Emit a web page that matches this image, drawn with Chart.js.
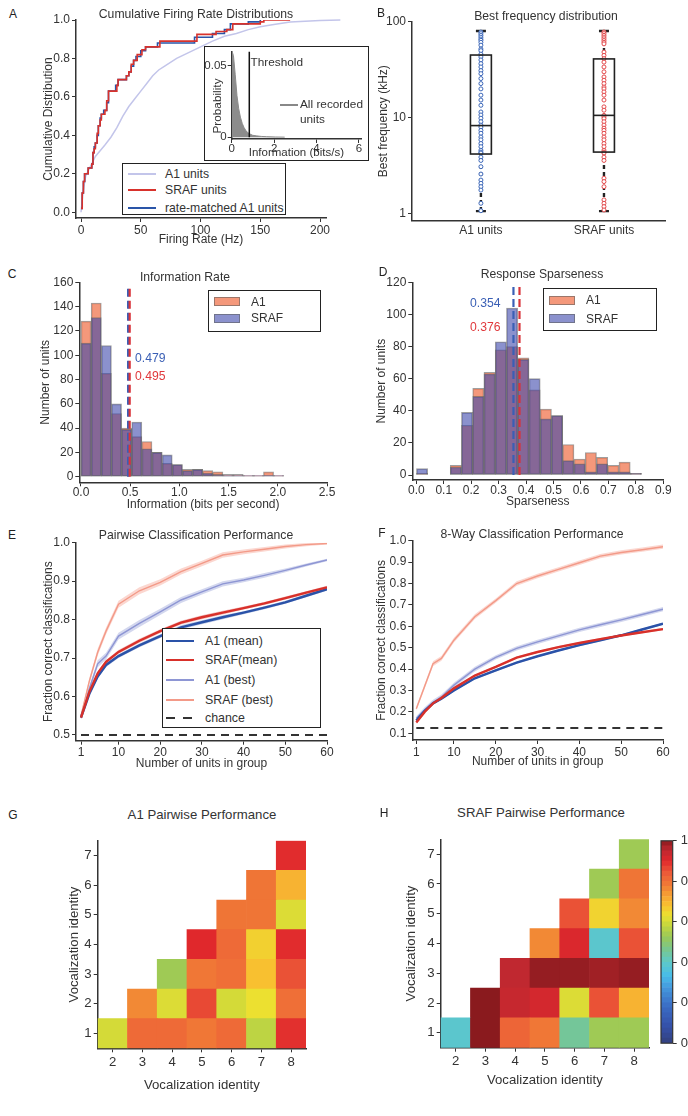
<!DOCTYPE html>
<html>
<head>
<meta charset="utf-8">
<script src="https://cdn.jsdelivr.net/npm/chart.js@4.4.1/dist/chart.umd.min.js"></script>
<style>
html,body{margin:0;padding:0;background:#fff;overflow:hidden}
#fig{position:relative;width:688px;height:1116px;overflow:hidden;font-family:"Liberation Sans",Arial,sans-serif;color:#333}
canvas{position:absolute}
.tx{position:absolute;white-space:nowrap;line-height:1}
.box{position:absolute;border:1.5px solid #222;background:#fff;box-sizing:border-box}
.sw{position:absolute}
</style>
</head>
<body>
<div id="fig">
  <canvas id="cA"></canvas>
  <div class="box" id="insetBox" style="left:204px;top:46px;width:165px;height:115px"></div>
  <canvas id="cAin"></canvas>
  <canvas id="cB"></canvas>
  <canvas id="cC"></canvas>
  <canvas id="cD"></canvas>
  <canvas id="cE"></canvas>
  <canvas id="cF"></canvas>
  <canvas id="cG"></canvas>
  <canvas id="cH"></canvas>
  <canvas id="cBar"></canvas>
</div>
<script>
/* ---------- data ---------- */
// A: cumulative firing-rate distributions (Hz, cumulative fraction)
const A1_RATE   = [0,1,2,4,8,12,16,20,25,30,35,40,45,50,55,60,65,70,80,90,100,110,120,130,140,150,160,175,200,217];
const A1_CUM    = [0,0.06,0.12,0.19,0.24,0.29,0.32,0.35,0.39,0.44,0.5,0.55,0.59,0.63,0.67,0.71,0.74,0.76,0.8,0.83,0.86,0.89,0.915,0.93,0.95,0.965,0.975,0.99,0.997,1.0];
const SRAF_RATE = [0,1,2,3,6,9,10,11,12,13.5,14.5,16,17,20,21.5,23,30,31,38,40,42,44,47,51,54,66,97,113,122,127,150,153,175];
const SRAF_CUM  = [0.02,0.1,0.16,0.2,0.23,0.25,0.31,0.33,0.36,0.41,0.45,0.48,0.51,0.53,0.58,0.63,0.66,0.69,0.71,0.73,0.77,0.79,0.82,0.845,0.86,0.89,0.925,0.94,0.95,0.98,0.99,1.0,1.0];
const RM_RATE   = [0,1,2,3,6,9,10,11,12,13.5,14.5,16,17,19,21.5,23,29,31,38,40,42,44,46,50,54,64,95,110,120,125,140,150];
const RM_CUM    = [0.02,0.1,0.16,0.2,0.23,0.25,0.31,0.34,0.36,0.4,0.45,0.49,0.51,0.53,0.57,0.63,0.66,0.69,0.71,0.73,0.76,0.79,0.81,0.84,0.86,0.88,0.91,0.93,0.95,0.98,0.99,1.0];
// A inset: information of all recorded units
const INFO_ALL_X = [0,0.017,0.083,0.165,0.25,0.33,0.41,0.5,0.58,0.66,0.74,0.83,0.99,1.16,1.4,1.65,2.06,2.5];
const INFO_ALL_P = [0.06,0.06,0.057,0.044,0.029,0.02,0.014,0.0095,0.0068,0.0048,0.0034,0.0024,0.0013,0.0009,0.0005,0.0003,0.0001,0];
const THRESHOLD = 0.83;

// B: best frequency (kHz)
const BF_GROUPS = ['A1 units','SRAF units'];
const BF_A1   = [78,75,72,69,66,64,61,57,52,50,46,43,40,36.6,33.8,31,28.8,25.6,22.7,20,17.2,15.3,13.5,11.5,10.7,9.9,9.1,8.4,8.0,7.4,6.9,6.3,5.9,5.4,5.0,4.6,4.4,4.3,3.9,3.6,3.1,2.6,2.25,2.08,1.92,1.77,1.29,1.08];
const BF_SRAF = [78.1,75.2,72.1,69.2,66.4,63.7,61.1,58.8,48.3,44.6,41.2,38,33.8,30.1,26.6,24.6,22.7,20.9,20,18.6,17.2,15.3,13,12,10.6,10.2,9.8,9.1,8.4,7.8,7.4,6.9,6.3,5.9,5.4,5.0,4.6,4.4,4.3,3.9,3.6,2.35,2.17,1.92,1.4,1.29,1.19,1.1];
const BF_LOW  = [1.07,1.07];
const BF_Q1   = [4.2,4.4];
const BF_MED  = [8.3,10.6];
const BF_Q3   = [45,41];
const BF_HIGH = [80,80];

// C: information rate histogram
const INFO_BINS = [0.052,0.155,0.258,0.361,0.464,0.567,0.67,0.773,0.876,0.979,1.082,1.185,1.288,1.391,1.494,1.597,1.7,1.803,1.906,2.009];
const INFO_A1   = [128,143,85,52,40,33,29,20,11,10,6,6,5,4,2,2,1,1,4,1];
const INFO_SRAF = [110,131,108,60,39,45,23,20,18,10,5,6,3,2,1,1,1,1,1,1];
const INFO_MARKS = [0.479,0.495];

// D: sparseness histogram
const SPARSE_BINS = [0.021,0.062,0.103,0.144,0.185,0.226,0.267,0.308,0.349,0.39,0.431,0.472,0.513,0.554,0.595,0.636,0.677,0.718,0.759,0.8];
const SPARSE_A1   = [1,0,0,6,31,54,64,78,80,73,53,41,37,19,10,14,11,6,8,1];
const SPARSE_SRAF = [4,0,0,5,39,49,63,83,104,72,60,35,37,9,7,2,7,2,2,1];
const SPARSE_MARKS = [0.354,0.376];

// E, F: classification performance vs number of units
const N_UNITS = [1,3,5,7,10,15,20,25,30,35,40,45,50,55,60];
const PW_A1_MEAN   = [0.545,0.607,0.652,0.682,0.705,0.733,0.757,0.78,0.793,0.806,0.818,0.831,0.845,0.862,0.879];
const PW_SRAF_MEAN = [0.545,0.612,0.66,0.69,0.716,0.745,0.77,0.792,0.806,0.818,0.83,0.842,0.856,0.87,0.884];
const PW_A1_BEST   = [0.55,0.62,0.685,0.705,0.757,0.79,0.82,0.851,0.872,0.893,0.903,0.915,0.928,0.942,0.955];
const PW_SRAF_BEST = [0.55,0.64,0.715,0.77,0.84,0.875,0.897,0.925,0.946,0.968,0.976,0.983,0.99,0.995,0.998];
const PW_ERR_MEAN  = [0.004,0.005,0.005,0.005,0.005,0.005,0.005,0.005,0.005,0.005,0.004,0.004,0.004,0.004,0.004];
const PW_ERR_BEST  = [0.006,0.008,0.009,0.009,0.009,0.009,0.008,0.008,0.007,0.007,0.006,0.006,0.005,0.004,0.003];
const PW_CHANCE = 0.5;
const W8_A1_MEAN   = [0.16,0.205,0.24,0.262,0.3,0.357,0.394,0.43,0.46,0.487,0.512,0.535,0.558,0.585,0.612];
const W8_SRAF_MEAN = [0.15,0.2,0.24,0.265,0.31,0.37,0.41,0.454,0.48,0.503,0.522,0.54,0.557,0.572,0.587];
const W8_A1_BEST   = [0.17,0.21,0.245,0.27,0.325,0.4,0.455,0.497,0.527,0.555,0.583,0.607,0.63,0.655,0.68];
const W8_SRAF_BEST = [0.215,0.32,0.425,0.45,0.535,0.645,0.72,0.8,0.835,0.866,0.897,0.928,0.945,0.958,0.972];
const W8_ERR_MEAN  = [0.006,0.005,0.005,0.005,0.005,0.005,0.005,0.005,0.005,0.005,0.005,0.005,0.005,0.005,0.005];
const W8_ERR_BEST  = [0.01,0.012,0.012,0.011,0.011,0.011,0.01,0.01,0.01,0.01,0.01,0.01,0.01,0.01,0.01];
const W8_CHANCE = 0.125;

// G, H: pairwise performance matrices (rows = vocalization 1..7, cols = 2..8)
const VOC_ROWS = [1,2,3,4,5,6,7];
const VOC_COLS = ['2','3','4','5','6','7','8'];
const A1_PAIR = [
  [0.60,0.81,0.81,0.785,0.81,0.57,0.89],
  [null,0.76,0.61,0.86,0.60,0.63,0.80],
  [null,null,0.53,0.785,0.80,0.68,0.85],
  [null,null,null,0.90,0.81,0.655,0.895],
  [null,null,null,null,0.79,0.79,0.61],
  [null,null,null,null,null,0.79,0.70],
  [null,null,null,null,null,null,0.895]
];
const SRAF_PAIR = [
  [0.39,1.0,0.82,0.785,0.45,0.53,0.53],
  [null,1.0,0.94,0.92,0.61,0.85,0.70],
  [null,null,0.95,0.99,0.99,0.98,0.99],
  [null,null,null,0.76,0.91,0.39,0.85],
  [null,null,null,null,0.85,0.65,0.76],
  [null,null,null,null,null,0.53,0.79],
  [null,null,null,null,null,null,0.53]
];
const CBAR_TICKS = [0,0.2,0.4,0.6,0.8,1.0];
const CBAR_STEPS = 40;

/* ---------- colour map ---------- */
const CMAP = [[0,'#33407e'],[0.08,'#3550a8'],[0.18,'#3a6cc4'],[0.27,'#4496dc'],[0.33,'#48bce8'],[0.4,'#5ec8c8'],
  [0.46,'#78c690'],[0.52,'#98c85a'],[0.58,'#c4d63e'],[0.63,'#ece030'],[0.68,'#f8c030'],[0.73,'#f6a034'],
  [0.78,'#f07a36'],[0.84,'#ec5a38'],[0.9,'#e0282c'],[0.95,'#c02830'],[1,'#8a1a1e']];
function hex(h){return [1,3,5].map(i=>parseInt(h.substr(i,2),16));}
function cmap(v){
  for(let i=1;i<CMAP.length;i++){
    if(v<=CMAP[i][0]){
      const a=CMAP[i-1],b=CMAP[i],t=(v-a[0])/(b[0]-a[0]);
      const ca=hex(a[1]),cb=hex(b[1]);
      return 'rgb('+ca.map((c,k)=>Math.round(c+(cb[k]-c)*t)).join(',')+')';
    }
  }
  return CMAP[CMAP.length-1][1];
}

/* ---------- helpers ---------- */
Chart.defaults.font.family='"Liberation Sans", Arial, sans-serif';
Chart.defaults.font.size=12;
Chart.defaults.color='#333';
Chart.defaults.animation=false;
Chart.defaults.plugins.legend.display=false;
Chart.defaults.plugins.tooltip.enabled=false;
Chart.defaults.elements.point.radius=0;

const fig=document.getElementById('fig');
function txt(s,x,y,o){
  o=o||{};
  const d=document.createElement('div');
  d.className='tx';d.textContent=s;
  d.style.left=x+'px';d.style.top=y+'px';
  d.style.fontSize=(o.size||12)+'px';
  d.style.color=o.color||'#333';
  const tx=o.align==='left'?'0':o.align==='right'?'-100%':'-50%';
  d.style.transform='translate('+tx+',-50%)'+(o.rot?' rotate(-90deg)':'');
  (o.parent||fig).appendChild(d);
  return d;
}
// place a canvas (box = [left,top,w,h]) so that the plot area lands on area=[l,t,r,b]
function place(id,box,area){
  const c=document.getElementById(id);
  c.style.left=box[0]+'px';c.style.top=box[1]+'px';
  c.width=box[2];c.height=box[3];
  return {c,pad:{left:0,top:area[1]-box[1],right:box[0]+box[2]-area[2],bottom:0},yw:area[0]-box[0],xh:box[1]+box[3]-area[3]};
}
const tk=vals=>s=>{s.ticks=vals.map(v=>({value:v}));};
function ax(o){
  const base={
    grid:{display:true,drawOnChartArea:false,drawTicks:true,tickLength:4,tickColor:'#333',tickWidth:1,offset:false},
    border:{display:true,color:'#333',width:1.5},
    ticks:{color:'#333',padding:2,maxRotation:0,autoSkip:false,font:{size:12}},
    title:{display:false,color:'#333',font:{size:12},padding:{top:4,bottom:4}}
  };
  const r=Object.assign({},base,o);
  ['grid','ticks','title','border'].forEach(k=>{r[k]=Object.assign({},base[k],o[k]||{});});
  return r;
}
const xy=(xs,ys)=>xs.map((x,i)=>({x,y:ys[i]}));

/* ---------- panel letters and titles ---------- */
[['A',13,14],['B',381,13],['C',12,274],['D',383,272],['E',12,535],['F',382,533],['G',13,815],['H',384,813]]
  .forEach(p=>txt(p[0],p[1],p[2],{size:12,color:'#222'}));
[['Cumulative Firing Rate Distributions',196,13.5,12.2],['Best frequency distribution',546,15.5,12.2],['Information Rate',185,276.5,12.2],
 ['Response Sparseness',542,273.5,12.2],['Pairwise Classification Performance',196,535,12.2],['8-Way Classification Performance',532,534,12.2],
 ['A1 Pairwise Performance',202,815,13.2],['SRAF Pairwise Performance',541,813,13.2]]
  .forEach(p=>txt(p[0],p[1],p[2],{size:p[3]}));

/* ---------- A ---------- */
const pA=place('cA',[37,0,307,251],[76,20,326,218]);
new Chart(pA.c,{type:'line',
  data:{datasets:[
    {data:xy(A1_RATE,A1_CUM),borderColor:'#c3c5ea',borderWidth:1.5,order:3,clip:false},
    {data:xy(RM_RATE,RM_CUM),stepped:'before',borderColor:'#2a55a8',borderWidth:1.6,order:2},
    {data:xy(SRAF_RATE,SRAF_CUM),stepped:'before',borderColor:'#d8322c',borderWidth:1.6,order:1}
  ]},
  options:{responsive:false,devicePixelRatio:1,layout:{padding:pA.pad},
    scales:{
      x:ax({type:'linear',min:-4.2,max:205,afterFit:s=>{s.height=pA.xh;},afterBuildTicks:tk([0,50,100,150,200]),
        ticks:{padding:1},title:{display:true,text:'Firing Rate (Hz)'}}),
      y:ax({min:-0.03,max:1,afterFit:s=>{s.width=pA.yw;},afterBuildTicks:tk([0,0.2,0.4,0.6,0.8,1]),
        ticks:{callback:v=>v.toFixed(1)},title:{display:true,text:'Cumulative Distribution'}})
    }}});
// legend A
(function(){
  const lg=document.createElement('div');lg.className='box';
  Object.assign(lg.style,{left:'122px',top:'163px',width:'164px',height:'52px'});
  fig.appendChild(lg);
  [['A1 units','#c3c5ea',10],['SRAF units','#d8322c',25.5],['rate-matched A1 units','#2a55a8',43.5]].forEach(e=>{
    const s=document.createElement('div');s.className='sw';
    Object.assign(s.style,{left:'5px',top:(e[2]-1)+'px',width:'28px',height:'2px',background:e[1]});
    lg.appendChild(s);
    txt(e[0],42,e[2],{parent:lg,align:'left',size:12.2});
  });
})();
// inset
const pAin=place('cAin',[200,43,169,118],[231.7,51.4,361,139]);
new Chart(pAin.c,{type:'line',
  data:{datasets:[
    {data:[{x:THRESHOLD,y:0},{x:THRESHOLD,y:0.06}],borderColor:'#111',borderWidth:1.5,order:1},
    {data:xy(INFO_ALL_X,INFO_ALL_P),borderColor:'#8c8c8c',borderWidth:1,backgroundColor:'#8c8c8c',fill:'origin',order:2}
  ]},
  options:{responsive:false,devicePixelRatio:1,layout:{padding:pAin.pad},
    scales:{
      x:ax({type:'linear',min:0,max:6.1,afterFit:s=>{s.height=pAin.xh;},afterBuildTicks:tk([0,2,4,6]),
        ticks:{padding:-1,font:{size:11.5}},title:{display:true,text:'Information (bits/s)',font:{size:11.5},padding:{top:0,bottom:1}}}),
      y:ax({min:-0.0013,max:0.06,afterFit:s=>{s.width=pAin.yw;},afterBuildTicks:tk([0,0.05]),
        ticks:{callback:v=>v===0?'0':v.toFixed(2),padding:1,font:{size:11.5}}})
    }}});
txt('Probability',218,106,{size:11.8,rot:true});
txt('Threshold',250.5,63,{align:'left',size:11.8});
(function(){const s=document.createElement('div');s.className='sw';
  Object.assign(s.style,{left:'280px',top:'104px',width:'18px',height:'2px',background:'#888'});fig.appendChild(s);})();
txt('All recorded',300,105,{align:'left',size:11.8});
txt('units',300,120,{align:'left',size:11.8});

/* ---------- B ---------- */
const boxPlot={id:'boxPlot',
  beforeDatasetsDraw(c){
    const {ctx,scales:{x,y}}=c;ctx.save();
    ctx.strokeStyle='#222';ctx.lineWidth=2.4;
    BF_GROUPS.forEach((g,i)=>{
      const px=x.getPixelForValue(i+1);
      ctx.setLineDash([4,3]);
      ctx.beginPath();
      ctx.moveTo(px,y.getPixelForValue(BF_LOW[i]));ctx.lineTo(px,y.getPixelForValue(BF_Q1[i]));
      ctx.moveTo(px,y.getPixelForValue(BF_Q3[i]));ctx.lineTo(px,y.getPixelForValue(BF_HIGH[i]));
      ctx.stroke();
      ctx.setLineDash([]);
      ctx.beginPath();
      [BF_LOW[i],BF_HIGH[i]].forEach(v=>{const py=y.getPixelForValue(v);ctx.moveTo(px-5,py);ctx.lineTo(px+5,py);});
      ctx.stroke();
    });
    ctx.restore();
  },
  afterDatasetsDraw(c){
    const {ctx,scales:{x,y}}=c;ctx.save();
    ctx.strokeStyle='#222';ctx.lineWidth=1.6;
    BF_GROUPS.forEach((g,i)=>{
      const x0=x.getPixelForValue(i+1-0.085),x1=x.getPixelForValue(i+1+0.085);
      const y0=y.getPixelForValue(BF_Q3[i]),y1=y.getPixelForValue(BF_Q1[i]);
      ctx.strokeRect(x0,y0,x1-x0,y1-y0);
      const ym=y.getPixelForValue(BF_MED[i]);
      ctx.beginPath();ctx.moveTo(x0,ym);ctx.lineTo(x1,ym);ctx.stroke();
    });
    ctx.restore();
  }};
const pB=place('cB',[372,0,316,251],[412,21.7,665.5,220.7]);
new Chart(pB.c,{type:'scatter',
  data:{datasets:[
    {data:BF_A1.map(v=>({x:1,y:v})),pointRadius:2,pointBorderWidth:1,pointBorderColor:'#3b66b8',pointBackgroundColor:'#fff'},
    {data:BF_SRAF.map(v=>({x:2,y:v})),pointRadius:2,pointBorderWidth:1,pointBorderColor:'#e2494b',pointBackgroundColor:'#fff'}
  ]},
  options:{responsive:false,devicePixelRatio:1,layout:{padding:pB.pad},
    scales:{
      x:ax({type:'linear',min:0.44,max:2.5,afterFit:s=>{s.height=pB.xh;},afterBuildTicks:tk([1,2]),
        grid:{drawTicks:false},ticks:{padding:3,callback:v=>BF_GROUPS[v-1]}}),
      y:ax({type:'logarithmic',min:0.85,max:100,afterFit:s=>{s.width=pB.yw;},afterBuildTicks:tk([1,10,100]),
        ticks:{callback:v=>String(v)},title:{display:true,text:'Best frequency (kHz)'}})
    }},
  plugins:[boxPlot]});

/* ---------- C, D histograms ---------- */
const A1_FILL='rgba(240,112,72,0.72)',SRAF_FILL='rgba(62,72,172,0.6)',EDGE='rgba(95,95,95,0.6)';
function histChart(p,bins,a1,sraf,marks,xo,yo,tlabel){
  return new Chart(p.c,{type:'bar',
    data:{datasets:[
      {type:'line',data:[{x:marks[1],y:0},{x:marks[1],y:yo.max*0.985}],borderColor:'#d9343a',borderWidth:2.2,borderDash:[8,4],order:0},
      {type:'line',data:[{x:marks[0],y:0},{x:marks[0],y:yo.max*0.985}],borderColor:'#3a5fb5',borderWidth:2.2,borderDash:[8,4],order:0.5},
      {data:xy(bins,sraf),backgroundColor:SRAF_FILL,borderColor:EDGE,borderWidth:1,borderSkipped:false,grouped:false,barPercentage:1,categoryPercentage:1,order:1},
      {data:xy(bins,a1),backgroundColor:A1_FILL,borderColor:EDGE,borderWidth:1,borderSkipped:false,grouped:false,barPercentage:1,categoryPercentage:1,order:2}
    ]},
    options:{responsive:false,devicePixelRatio:1,layout:{padding:p.pad},
      scales:{
        x:ax(Object.assign({type:'linear',offset:false,afterFit:s=>{s.height=p.xh;},ticks:{padding:-1,callback:v=>v.toFixed(1)},
          title:{display:true,text:tlabel}},xo)),
        y:ax(Object.assign({afterFit:s=>{s.width=p.yw;},title:{display:true,text:'Number of units'}},yo))
      }}});
}
const pC=place('cC',[34,265,310,251],[79.3,282.3,327,482.3]);
histChart(pC,INFO_BINS,INFO_A1,INFO_SRAF,INFO_MARKS,
  {min:-0.017,max:2.5,afterBuildTicks:tk([0,0.5,1,1.5,2,2.5])},
  {min:-4.6,max:160,afterBuildTicks:tk([0,20,40,60,80,100,120,140,160])},'Information (bits per second)');
txt(INFO_MARKS[0].toFixed(3),135,358,{align:'left',color:'#3a5fb5',size:12.2});
txt(INFO_MARKS[1].toFixed(3),135,376,{align:'left',color:'#e0393c',size:12.2});

const pD=place('cD',[370,265,318,248],[412.3,282.3,663.3,480]);
histChart(pD,SPARSE_BINS,SPARSE_A1,SPARSE_SRAF,SPARSE_MARKS,
  {min:-0.0146,max:0.9,afterBuildTicks:tk([0,0.1,0.2,0.3,0.4,0.5,0.6,0.7,0.8,0.9])},
  {min:-3.1,max:120,afterBuildTicks:tk([0,20,40,60,80,100,120])},'Sparseness');
txt(SPARSE_MARKS[0].toFixed(3),500.5,302.5,{align:'right',color:'#3a5fb5',size:12.2});
txt(SPARSE_MARKS[1].toFixed(3),500.5,326.5,{align:'right',color:'#e0393c',size:12.2});

function histLegend(left,top,w,h,sy){
  const lg=document.createElement('div');lg.className='box';
  Object.assign(lg.style,{left:left+'px',top:top+'px',width:w+'px',height:h+'px'});
  fig.appendChild(lg);
  [['A1',A1_FILL,sy[0]],['SRAF',SRAF_FILL,sy[1]]].forEach(e=>{
    const s=document.createElement('div');s.className='sw';
    Object.assign(s.style,{left:'5px',top:(e[2]-4.5)+'px',width:'26px',height:'9px',background:e[1],border:'1px solid '+EDGE,boxSizing:'border-box'});
    lg.appendChild(s);
    txt(e[0],42,e[2],{parent:lg,align:'left',size:12});
  });
}
histLegend(208,290,113,42,[10.5,27]);
histLegend(543,288,114,43,[11,29.5]);

/* ---------- E, F performance curves ---------- */
const C_A1M='#2a52a8',C_SRM='#d8302a',C_A1B='#8e96d4',C_SRB='#f39a88';
function band(mid,err,line,fill,w,ord){
  return [
    {data:N_UNITS.map((x,i)=>({x,y:mid[i]+err[i]})),borderWidth:0,backgroundColor:fill,fill:'+1',order:ord+10},
    {data:N_UNITS.map((x,i)=>({x,y:mid[i]-err[i]})),borderWidth:0,fill:false,order:ord+10},
    {data:xy(N_UNITS,mid),borderColor:line,borderWidth:w,fill:false,order:ord}
  ];
}
function perfChart(p,m,xo,yo,chance){
  return new Chart(p.c,{type:'line',
    data:{datasets:[
      {data:[{x:1,y:chance},{x:60,y:chance}],borderColor:'#333',borderWidth:2,borderDash:[8,6],order:0},
      ...band(m.a1m,m.em,C_A1M,'rgba(42,82,168,0.3)',2.4,2),
      ...band(m.srm,m.em,C_SRM,'rgba(216,48,42,0.3)',2.4,1),
      ...band(m.a1b,m.eb,C_A1B,'rgba(130,140,205,0.35)',1.4,4),
      ...band(m.srb,m.eb,C_SRB,'rgba(243,140,120,0.35)',1.4,3)
    ]},
    options:{responsive:false,devicePixelRatio:1,layout:{padding:p.pad},
      scales:{
        x:ax(Object.assign({type:'linear',afterFit:s=>{s.height=p.xh;},afterBuildTicks:tk([1,10,20,30,40,50,60]),
          ticks:{padding:1},title:{display:true,text:'Number of units in group'}},xo)),
        y:ax(Object.assign({afterFit:s=>{s.width=p.yw;},ticks:{callback:v=>v.toFixed(1)},
          title:{display:true,text:'Fraction correct classifications'}},yo))
      }}});
}
const pE=place('cE',[37,530,307,245],[76,542.7,327,740.7]);
perfChart(pE,{a1m:PW_A1_MEAN,srm:PW_SRAF_MEAN,a1b:PW_A1_BEST,srb:PW_SRAF_BEST,em:PW_ERR_MEAN,eb:PW_ERR_BEST},
  {min:-0.2,max:60},{min:0.485,max:1,afterBuildTicks:tk([0.5,0.6,0.7,0.8,0.9,1.0])},PW_CHANCE);
const pF=place('cF',[370,528,318,245],[412.3,540.7,663,740]);
perfChart(pF,{a1m:W8_A1_MEAN,srm:W8_SRAF_MEAN,a1b:W8_A1_BEST,srb:W8_SRAF_BEST,em:W8_ERR_MEAN,eb:W8_ERR_BEST},
  {min:0.043,max:60},{min:0.0687,max:1,afterBuildTicks:tk([0.1,0.2,0.3,0.4,0.5,0.6,0.7,0.8,0.9,1.0])},W8_CHANCE);
(function(){
  const lg=document.createElement('div');lg.className='box';
  Object.assign(lg.style,{left:'162px',top:'628px',width:'159px',height:'100px'});
  fig.appendChild(lg);
  [['A1 (mean)',C_A1M,12],['SRAF(mean)',C_SRM,31.3],['A1 (best)',C_A1B,51.3],['SRAF (best)',C_SRB,71],['chance',null,88.7]].forEach(e=>{
    const s=document.createElement('div');s.className='sw';
    Object.assign(s.style,{left:'3px',top:(e[2]-1)+'px',width:'28px',height:'2px',
      background:e[1]||'repeating-linear-gradient(90deg,#333 0 9px,transparent 9px 17px)'});
    lg.appendChild(s);
    txt(e[0],42,e[2],{parent:lg,align:'left',size:12.4});
  });
})();

/* ---------- G, H heat maps ---------- */
function heatChart(p,vals){
  return new Chart(p.c,{type:'bar',
    data:{labels:VOC_COLS,datasets:VOC_ROWS.map((r,i)=>({
      data:vals[i].map(v=>v==null?null:[r-0.5,r+0.5]),
      backgroundColor:vals[i].map(v=>v==null?'rgba(0,0,0,0)':cmap(v)),
      borderWidth:0,grouped:false,barPercentage:1,categoryPercentage:1
    }))},
    options:{responsive:false,devicePixelRatio:1,layout:{padding:p.pad},
      scales:{
        x:ax({type:'category',offset:true,afterFit:s=>{s.height=p.xh;},ticks:{padding:2,font:{size:13.2}},
          title:{display:true,text:'Vocalization identity',font:{size:13.2}}}),
        y:ax({min:0.5,max:7.5,afterFit:s=>{s.width=p.yw;},afterBuildTicks:tk(VOC_ROWS),ticks:{font:{size:13.2}},
          title:{display:true,text:'Vocalization identity',font:{size:13.2}}})
      }}});
}
const pG=place('cG',[62,830,260,267],[97.7,840.7,306,1048.3]);
heatChart(pG,A1_PAIR);
const pH=place('cH',[399,829,261,263],[440.7,839.3,649,1047.7]);
heatChart(pH,SRAF_PAIR);

// colour bar
(function(){
  const c=document.getElementById('cBar');
  c.style.left='655px';c.style.top='829px';c.width=50;c.height=226;
  const levels=[];for(let i=0;i<CBAR_STEPS;i++)levels.push(i/CBAR_STEPS);
  const frame={id:'frame',afterDatasetsDraw(ch){const a=ch.chartArea,ctx=ch.ctx;ctx.save();ctx.strokeStyle='#333';ctx.lineWidth=1.2;
    ctx.strokeRect(a.left,a.top,a.right-a.left,a.bottom-a.top);ctx.restore();}};
  new Chart(c,{type:'bar',
    data:{labels:[''],datasets:levels.map(l=>({data:[[l,l+1/CBAR_STEPS]],backgroundColor:cmap(l+0.5/CBAR_STEPS),
      borderWidth:0,grouped:false,barPercentage:1,categoryPercentage:1}))},
    options:{responsive:false,devicePixelRatio:1,layout:{padding:{left:6,top:10.3,bottom:10,right:0}},
      scales:{
        x:{display:false},
        y:ax({position:'right',min:0,max:1,afterFit:s=>{s.width=32.3;},afterBuildTicks:tk(CBAR_TICKS),
          border:{display:false},ticks:{padding:4,font:{size:13},callback:v=>v.toFixed(1)}})
      }},
    plugins:[frame]});
})();
</script>
</body>
</html>
